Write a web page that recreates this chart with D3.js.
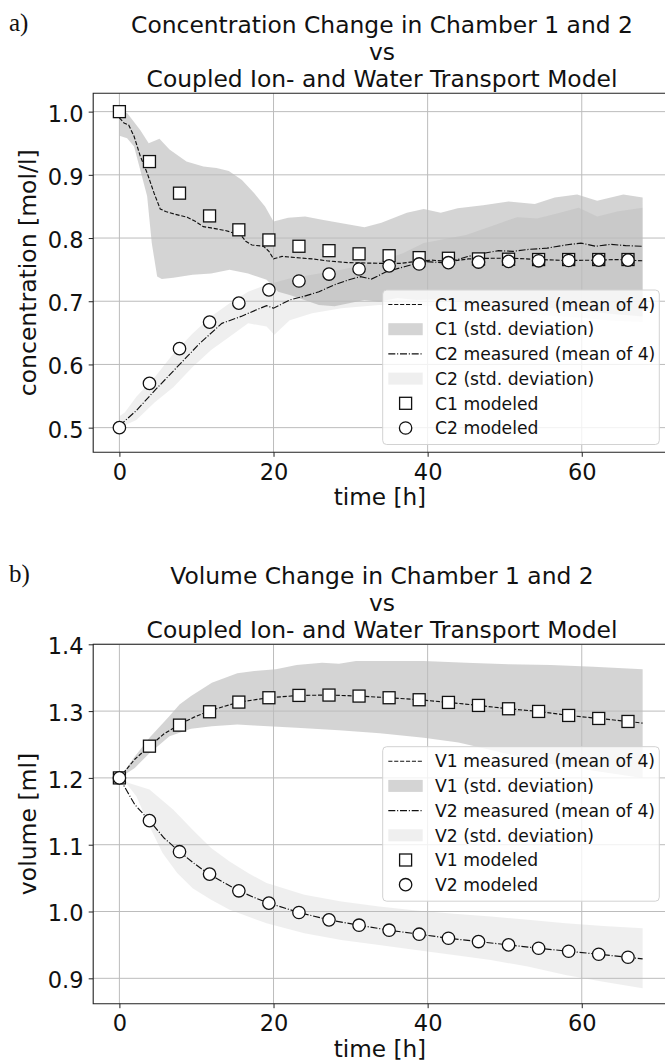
<!DOCTYPE html>
<html><head><meta charset="utf-8">
<script src="https://cdn.jsdelivr.net/npm/d3@7"></script>
<style>body{margin:0;background:#fff} svg{display:block} text{font-family:"DejaVu Sans",sans-serif;fill:#111}</style>
</head><body><svg id="c" width="665" height="1061"></svg>
<script>
// ---------- data ----------
const xTicks = [0, 20, 40, 60];
const concTicks = [0.5, 0.6, 0.7, 0.8, 0.9, 1.0];
const volTicks = [0.9, 1.0, 1.1, 1.2, 1.3, 1.4];
const timeModel = [0, 3.9, 7.8, 11.7, 15.5, 19.4, 23.3, 27.2, 31.1, 35.0, 38.9, 42.7, 46.6, 50.5, 54.4, 58.3, 62.2, 66.0];

const c1Model = [1.0, 0.921, 0.871, 0.835, 0.813, 0.797, 0.787, 0.780, 0.775, 0.772, 0.769, 0.768, 0.767, 0.7665, 0.766, 0.766, 0.766, 0.766];
const c2Model = [0.5, 0.570, 0.625, 0.667, 0.697, 0.718, 0.732, 0.743, 0.751, 0.756, 0.759, 0.761, 0.762, 0.763, 0.764, 0.7645, 0.765, 0.765];

const c1Mean = [[0,0.99],[0.6,0.982],[1.2,0.979],[1.9,0.961],[2.7,0.93],[3.6,0.903],[4.5,0.871],[5.3,0.846],[6,0.842],[7.1,0.838],[8.8,0.833],[9.9,0.826],[10.9,0.818],[11.9,0.816],[13.7,0.812],[14.3,0.81],[15.8,0.804],[16.4,0.795],[17.2,0.789],[18.7,0.787],[19.4,0.779],[20,0.767],[21.1,0.771],[23,0.769],[25,0.767],[26.9,0.764],[29.8,0.761],[33.7,0.760],[36.6,0.760],[38.5,0.763],[40.5,0.765],[42.9,0.763],[45.3,0.767],[48.2,0.768],[51.1,0.768],[54.5,0.766],[57.9,0.7645],[61.8,0.765],[64.7,0.766],[67.9,0.764]];
const c2Mean = [[0,0.503],[2.2,0.527],[4.6,0.559],[7.5,0.596],[10.4,0.633],[13.3,0.665],[15.8,0.676],[17.7,0.686],[19.1,0.693],[20,0.689],[22.1,0.702],[24,0.708],[25.9,0.715],[27.9,0.726],[29.8,0.734],[31.3,0.739],[32.7,0.735],[34.7,0.747],[37.1,0.755],[39.5,0.763],[41.9,0.761],[43.9,0.766],[45.3,0.771],[47.3,0.776],[49.2,0.78],[51.1,0.779],[53.1,0.782],[55.5,0.784],[57.9,0.789],[59.9,0.792],[61.8,0.787],[63.7,0.79],[65.7,0.788],[67.9,0.787]];

const c1Upper = [[0,1.0],[1,0.998],[2.7,0.971],[3.8,0.95],[5.2,0.957],[6.5,0.94],[8.7,0.921],[10.9,0.913],[12.6,0.911],[14.2,0.906],[15.9,0.892],[17.5,0.871],[18.9,0.85],[20,0.826],[21.9,0.832],[24.1,0.834],[26.3,0.829],[28.5,0.824],[31.8,0.817],[34,0.824],[37.3,0.84],[39.5,0.846],[41.7,0.84],[43.9,0.847],[47.2,0.852],[50.5,0.858],[53.9,0.854],[56.5,0.864],[59.4,0.869],[62,0.859],[65.4,0.869],[67.9,0.864]];
const c1Lower = [[0,0.962],[1,0.958],[1.9,0.945],[2.7,0.908],[3.6,0.866],[4.2,0.792],[4.9,0.739],[5.5,0.735],[7,0.737],[9.5,0.742],[11.9,0.744],[14.3,0.75],[16.7,0.744],[19.1,0.734],[20.6,0.715],[22.1,0.71],[24,0.702],[25.9,0.694],[27.9,0.692],[29.8,0.697],[31.8,0.702],[33.7,0.699],[36.1,0.705],[38.5,0.702],[42,0.703],[46,0.699],[50,0.696],[55,0.69],[60,0.685],[64,0.68],[67.9,0.676]];
const c2Upper = [[0,0.518],[0.7,0.524],[2.2,0.549],[4.6,0.58],[7,0.617],[9.5,0.649],[11.9,0.676],[14.3,0.697],[16.7,0.715],[19.1,0.726],[22.1,0.736],[25,0.742],[28.8,0.75],[33.7,0.763],[36.8,0.776],[39.5,0.792],[45,0.805],[49,0.822],[51.6,0.833],[54.2,0.831],[56.8,0.839],[59.6,0.848],[62,0.834],[64.6,0.842],[67.9,0.848]];
const c2Lower = [[0,0.5],[2.2,0.512],[4.6,0.54],[7,0.564],[9.5,0.596],[11.9,0.623],[14.3,0.644],[16.7,0.665],[19.1,0.66],[20.1,0.647],[22.1,0.67],[25,0.681],[28.8,0.689],[33.7,0.694],[38,0.693],[42,0.692],[46,0.688],[50,0.684],[55,0.678],[60,0.674],[64,0.669],[67.9,0.667]];

const v1Model = [1.2, 1.2475, 1.279, 1.299, 1.3135, 1.32, 1.3235, 1.324, 1.3225, 1.32, 1.317, 1.313, 1.3085, 1.3035, 1.2995, 1.2935, 1.289, 1.2845];
const v2Model = [1.2, 1.136, 1.0895, 1.056, 1.031, 1.0125, 0.9985, 0.9875, 0.9795, 0.972, 0.966, 0.96, 0.955, 0.95, 0.945, 0.9405, 0.936, 0.9315];

const v1Mean = [[0,1.2],[2,1.228],[3.9,1.2475],[5.8,1.266],[7.8,1.28],[9.7,1.291],[11.6,1.3],[13.6,1.307],[15.5,1.3135],[19.4,1.32],[23.3,1.3235],[27.2,1.324],[31.1,1.3225],[35,1.32],[38.9,1.317],[42.7,1.313],[46.6,1.3085],[50.5,1.3035],[54.4,1.2995],[58.3,1.2935],[62.2,1.289],[66,1.2845],[67.9,1.282]];
const v2Mean = [[0,1.2],[1,1.18],[2,1.16],[3.9,1.136],[5.8,1.11],[7.8,1.0895],[9.7,1.072],[11.6,1.056],[13.6,1.043],[15.5,1.031],[17.5,1.021],[19.4,1.0125],[23.3,0.9985],[27.2,0.9875],[31.1,0.9795],[35,0.972],[38.9,0.966],[42.7,0.96],[46.6,0.955],[50.5,0.95],[54.4,0.945],[58.3,0.9405],[62.2,0.936],[66,0.9315],[67.9,0.929]];

const v1Upper = [[0,1.2],[2,1.232],[3.9,1.26],[6.5,1.2925],[7.8,1.31],[9.3,1.3225],[12,1.3425],[15.3,1.3565],[17.5,1.36],[20.3,1.3625],[23,1.369],[26.3,1.3725],[28.5,1.371],[30.7,1.375],[39.5,1.375],[45,1.3725],[50.5,1.37],[56,1.369],[61.5,1.3665],[67.9,1.3625]];
const v1Lower = [[0,1.2],[2,1.215],[3.9,1.237],[6.5,1.2625],[9.3,1.2735],[12,1.2775],[15.3,1.28],[17.5,1.2785],[23,1.275],[28.5,1.2715],[33.8,1.267],[39.5,1.26],[44,1.253],[48.1,1.242],[55.5,1.222],[62,1.21],[67.9,1.2]];
const v2Upper = [[0,1.2],[1.2,1.1925],[3.9,1.1825],[7,1.1525],[9.5,1.1225],[11.9,1.095],[14.3,1.075],[16.7,1.0575],[19.1,1.0425],[24,1.025],[28.8,1.015],[33.7,1.0075],[38.5,1.0015],[43.4,0.9965],[48.2,0.9925],[53,0.9875],[57.9,0.9825],[62.8,0.9785],[67.9,0.975]];
const v2Lower = [[0,1.2],[0.5,1.1975],[2.2,1.1725],[3.9,1.1275],[5.6,1.0875],[7.5,1.0575],[9.5,1.035],[11.9,1.0175],[14.3,1.0025],[16.7,0.9925],[19.1,0.9825],[24,0.9675],[28.8,0.9575],[33.7,0.95],[38.5,0.9425],[43.4,0.935],[48.2,0.9275],[53,0.9175],[57.9,0.905],[62.8,0.895],[67.9,0.885]];

const concLegend = ["C1 measured (mean of 4)", "C1 (std. deviation)", "C2 measured (mean of 4)", "C2 (std. deviation)", "C1 modeled", "C2 modeled"];
const volLegend = ["V1 measured (mean of 4)", "V1 (std. deviation)", "V2 measured (mean of 4)", "V2 (std. deviation)", "V1 modeled", "V2 modeled"];
const titleLines = ["vs", "Coupled Ion- and Water Transport Model"];

// ---------- drawing ----------
const svg = d3.select("#c");
const DASH = "4.1,1.8", DASHDOT = "7.0,1.8,1.1,1.8";
const BAND1 = 0.34, BAND2 = 0.125;
const X0 = 93.2, X1 = 669.6;

function panel(o) {
  const g = svg.append("g");
  const x = d3.scaleLinear().domain([-3.4, 71.4]).range([X0, X1]);
  const y = d3.scaleLinear().domain(o.yDomain).range([o.bottom, o.top]);
  const line = d3.line().x(d => x(d[0])).y(d => y(d[1]));
  const poly = (u, l) => line(u.concat(l.slice().reverse())) + "Z";

  // bands
  g.append("path").attr("d", poly(o.b1u, o.b1l)).attr("fill", "#808080").attr("fill-opacity", BAND1);
  g.append("path").attr("d", poly(o.b2u, o.b2l)).attr("fill", "#808080").attr("fill-opacity", BAND2);

  // grid
  g.selectAll(".gx").data(xTicks).enter().append("line")
    .attr("x1", d => x(d)).attr("x2", d => x(d)).attr("y1", o.top).attr("y2", o.bottom)
    .attr("stroke", "#bcbcbc").attr("stroke-width", 1);
  g.selectAll(".gy").data(o.yTicks).enter().append("line")
    .attr("x1", X0).attr("x2", X1).attr("y1", d => y(d)).attr("y2", d => y(d))
    .attr("stroke", "#bcbcbc").attr("stroke-width", 1);

  // measured lines
  g.append("path").attr("d", line(o.m1)).attr("fill", "none").attr("stroke", "#111")
    .attr("stroke-width", 1.15).attr("stroke-dasharray", DASH);
  g.append("path").attr("d", line(o.m2)).attr("fill", "none").attr("stroke", "#111")
    .attr("stroke-width", 1.15).attr("stroke-dasharray", DASHDOT);

  // modeled markers
  g.selectAll(".sq").data(timeModel).enter().append("rect")
    .attr("x", (d, i) => x(d) - 6).attr("y", (d, i) => y(o.mod1[i]) - 6)
    .attr("width", 12).attr("height", 12).attr("fill", "#fff").attr("stroke", "#111").attr("stroke-width", 1.3);
  g.selectAll(".ci").data(timeModel).enter().append("circle")
    .attr("cx", d => x(d)).attr("cy", (d, i) => y(o.mod2[i])).attr("r", 6.2)
    .attr("fill", "#fff").attr("stroke", "#111").attr("stroke-width", 1.3);

  // spines
  g.append("path").attr("d", `M${X1},${o.top}H${X0}V${o.bottom}H${X1}`)
    .attr("fill", "none").attr("stroke", "#222").attr("stroke-width", 1.1);

  // axes
  const ax = g.append("g").attr("transform", `translate(0,${o.bottom})`)
    .call(d3.axisBottom(x).tickValues(xTicks).tickFormat(d3.format("d")).tickSize(4.5).tickPadding(7.2).tickSizeOuter(0));
  const ay = g.append("g").attr("transform", `translate(${X0},0)`)
    .call(d3.axisLeft(y).tickValues(o.yTicks).tickFormat(d3.format(".1f")).tickSize(4.5).tickPadding(5.2).tickSizeOuter(0));
  [ax, ay].forEach(a => {
    a.select(".domain").remove();
    a.selectAll("line").attr("stroke", "#222").attr("stroke-width", 1);
    a.selectAll("text").attr("font-size", 22.5).attr("font-family", "DejaVu Sans").attr("fill", "#111");
  });
  ay.selectAll("text").attr("dy", "0.42em");

  // axis labels
  g.append("text").attr("x", (X0 + X1) / 2 - 1.5).attr("y", o.bottom + 52.8).attr("text-anchor", "middle")
    .attr("font-size", 23.2).text("time [h]");
  g.append("text").attr("transform", `translate(36.3,${(o.top + o.bottom) / 2}) rotate(-90)`)
    .attr("text-anchor", "middle").attr("font-size", 23.5).text(o.ylabel);

  // title
  const tl = [o.title].concat(titleLines);
  tl.forEach((t, i) => {
    g.append("text").attr("x", 382).attr("y", o.top - 6.6 - (2 - i) * 26.9)
      .attr("text-anchor", "middle").attr("font-size", 23.4).text(t);
  });
  g.append("text").attr("x", 9).attr("y", o.top - 6.6 - 2 * 26.9 - 1.5)
    .attr("font-family", "Liberation Serif").style("font-family", "'Liberation Serif', serif")
    .attr("font-size", 25).text(o.tag);

  // legend
  const L = g.append("g");
  const r0 = o.legTop + 14.5, step = 24.7;
  const n = o.legend.length;
  L.append("rect").attr("x", 382.7).attr("y", o.legTop).attr("width", 276.6)
    .attr("height", (n - 1) * step + 14.5 + 16.5).attr("rx", 4)
    .attr("fill", "#fff").attr("fill-opacity", 0.8).attr("stroke", "#d2d2d2").attr("stroke-width", 1);
  o.legend.forEach((t, i) => {
    const cy = r0 + i * step;
    if (i === 0 || i === 2) {
      L.append("line").attr("x1", 388.3).attr("x2", 422.7).attr("y1", cy).attr("y2", cy)
        .attr("stroke", "#111").attr("stroke-width", 1.15).attr("stroke-dasharray", i === 0 ? DASH : DASHDOT);
    } else if (i === 1 || i === 3) {
      L.append("rect").attr("x", 388.3).attr("y", cy - 6).attr("width", 34.4).attr("height", 12)
        .attr("fill", "#808080").attr("fill-opacity", i === 1 ? BAND1 : BAND2);
    } else if (i === 4) {
      L.append("rect").attr("x", 405.6 - 6).attr("y", cy - 6).attr("width", 12).attr("height", 12)
        .attr("fill", "#fff").attr("stroke", "#111").attr("stroke-width", 1.3);
    } else {
      L.append("circle").attr("cx", 405.6).attr("cy", cy).attr("r", 6.2)
        .attr("fill", "#fff").attr("stroke", "#111").attr("stroke-width", 1.3);
    }
    L.append("text").attr("x", 435).attr("y", cy + 6.2).attr("font-size", 17.2).text(t);
  });
}

panel({
  tag: "a)", title: "Concentration Change in Chamber 1 and 2", ylabel: "concentration [mol/l]",
  yDomain: [0.461, 1.029], top: 93.3, bottom: 452.3, yTicks: concTicks,
  b1u: c1Upper, b1l: c1Lower, b2u: c2Upper, b2l: c2Lower, m1: c1Mean, m2: c2Mean,
  mod1: c1Model, mod2: c2Model, legend: concLegend, legTop: 290
});
panel({
  tag: "b)", title: "Volume Change in Chamber 1 and 2", ylabel: "volume [ml]",
  yDomain: [0.862, 1.4], top: 644.3, bottom: 1003.7, yTicks: volTicks,
  b1u: v1Upper, b1l: v1Lower, b2u: v2Upper, b2l: v2Lower, m1: v1Mean, m2: v2Mean,
  mod1: v1Model, mod2: v2Model, legend: volLegend, legTop: 746.7
});
</script></body></html>
